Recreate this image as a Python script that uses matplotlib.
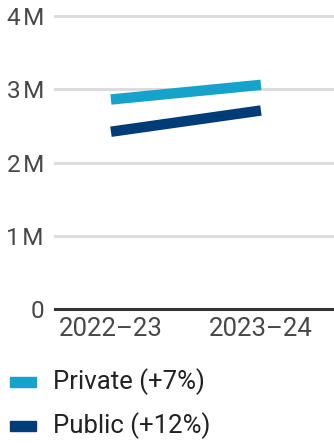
import matplotlib.pyplot as plt
from matplotlib.patches import Rectangle

plt.rcParams['font.family'] = ['Roboto', 'DejaVu Sans']

years = ['2022–23', '2023–24']
private = [2.86e6, 3.06e6]
public = [2.42e6, 2.71e6]
series_labels = ['Private (+7%)', 'Public (+12%)']
colors = ['#15a3cb', '#003c77']
yticks = [0, 1e6, 2e6, 3e6, 4e6]
ytick_labels = ['0', '1\u200aM', '2\u200aM', '3\u200aM', '4\u200aM']

fig = plt.figure(figsize=(3.34, 4.43), dpi=100)
ax = fig.add_axes([55 / 334, 1 - 309 / 443, 1 - 55 / 334, 293 / 443])

x = range(len(years))
ax.plot(x, private, color=colors[0], linewidth=7.5, solid_capstyle='butt', zorder=3)
ax.plot(x, public, color=colors[1], linewidth=7.5, solid_capstyle='butt', zorder=3)

ax.set_xlim(-0.373, 1.487)
ax.set_ylim(0, 4e6)
ax.set_yticks(yticks)
ax.set_yticklabels(ytick_labels)
ax.set_xticks(list(x))
ax.set_xticklabels(years)

for v in yticks[1:]:
    ax.axhline(v, color='#dcdcdc', linewidth=2.2, zorder=1, clip_on=False)
ax.axhline(0, color='#333333', linewidth=2.2, zorder=2, clip_on=False)

for s in ax.spines.values():
    s.set_visible(False)
ax.tick_params(axis='both', length=0, colors='#484848')
ax.tick_params(axis='y', pad=8, labelsize=17.5)
ax.tick_params(axis='x', pad=6, labelsize=18.5)

# legend drawn by hand as swatches and text
for i, (lab, c) in enumerate(zip(series_labels, colors)):
    yc = 382 + i * 44
    fig.patches.append(Rectangle((10 / 334, 1 - (yc + 5) / 443), 26 / 334, 10 / 443,
                                 transform=fig.transFigure, color=c))
    fig.text(53 / 334, 1 - yc / 443, lab, fontsize=18.5, color='#222222', va='center', ha='left')

fig.savefig('out.png', dpi=100)
